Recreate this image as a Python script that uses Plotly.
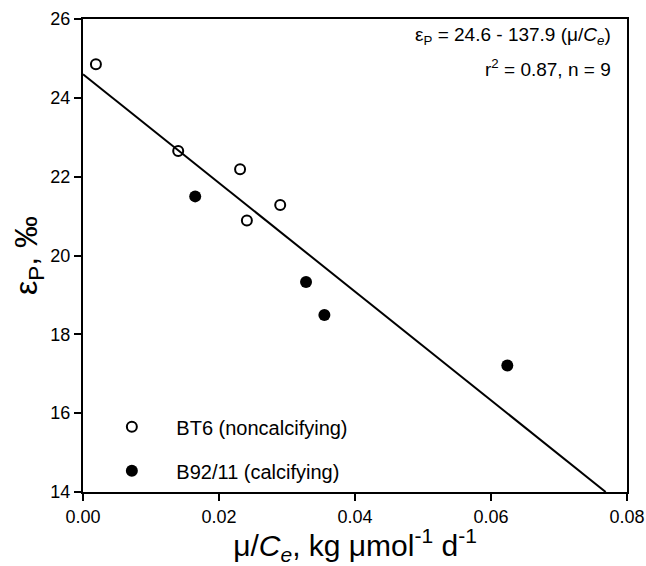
import plotly.graph_objects as go

# Data
open_x = [0.0019, 0.0140, 0.0231, 0.0241, 0.0290]
open_y = [24.85, 22.65, 22.19, 20.89, 21.28]
filled_x = [0.0165, 0.0328, 0.0355, 0.0624]
filled_y = [21.50, 19.33, 18.49, 17.21]
fit_intercept = 24.6
fit_slope = -137.9
fit_x = [0.0, (14 - 24.6) / -137.9]
fit_y = [fit_intercept + fit_slope * x for x in fit_x]

x_ticks = [0.00, 0.02, 0.04, 0.06, 0.08]
x_ticklabels = ["0.00", "0.02", "0.04", "0.06", "0.08"]
y_ticks = [14, 16, 18, 20, 22, 24, 26]

FONT = "Liberation Sans, Arial, Helvetica, sans-serif"

fig = go.Figure()
fig.add_trace(go.Scatter(x=fit_x, y=fit_y, mode="lines",
                         line=dict(color="black", width=2), showlegend=False))
fig.add_trace(go.Scatter(x=open_x, y=open_y, mode="markers", name="BT6 (noncalcifying)",
                         legendgroup="a",
                         marker=dict(symbol="circle-open", size=10, color="black",
                                     line=dict(width=2, color="black"))))
fig.add_trace(go.Scatter(x=filled_x, y=filled_y, mode="markers", name="B92/11 (calcifying)",
                         legendgroup="b",
                         marker=dict(symbol="circle", size=12, color="black")))

fig.update_layout(
    width=646, height=566,
    margin=dict(l=83, r=19, t=19, b=74),
    plot_bgcolor="white", paper_bgcolor="white",
    font=dict(family=FONT, color="black", size=18),
    legend=dict(x=0.008, y=0.179, xanchor="left", yanchor="top",
                traceorder="grouped", tracegroupgap=15,
                font=dict(size=20), bgcolor="rgba(0,0,0,0)", itemwidth=79),
    xaxis=dict(range=[0, 0.08], tickvals=x_ticks, ticktext=x_ticklabels,
               showgrid=False, zeroline=False, showline=True, linecolor="black",
               linewidth=2, mirror=True, ticks="outside", ticklen=7, tickwidth=2,
               tickcolor="black", tickfont=dict(size=18), automargin=False,
               title=dict(text="μ/<i>C<sub>e</sub></i>, kg μmol<sup>-1</sup> d<sup>-1</sup>",
                          font=dict(size=30), standoff=4)),
    yaxis=dict(range=[14, 26], tickvals=y_ticks,
               showgrid=False, zeroline=False, showline=True, linecolor="black",
               linewidth=2, mirror=True, ticks="outside", ticklen=7, tickwidth=2,
               tickcolor="black", tickfont=dict(size=18), automargin=False,
               title=dict(text="ε<sub>P</sub>, ‰", font=dict(size=32), standoff=3)),
)

fig.add_annotation(xref="paper", yref="paper", x=0.974, y=(492 - 36) / 473, xanchor="right",
                   yanchor="middle", showarrow=False, align="right",
                   text="ε<sub>P</sub> = 24.6 - 137.9 (μ/<i>C<sub>e</sub></i>)",
                   font=dict(size=19))
fig.add_annotation(xref="paper", yref="paper", x=0.974, y=(492 - 68) / 473, xanchor="right",
                   yanchor="middle", showarrow=False, align="right",
                   text="r<sup>2</sup> = 0.87, n = 9",
                   font=dict(size=19))

fig.write_html("out.html", config={"displayModeBar": False},
               post_script="document.body.style.margin='0';document.body.style.padding='0';")
